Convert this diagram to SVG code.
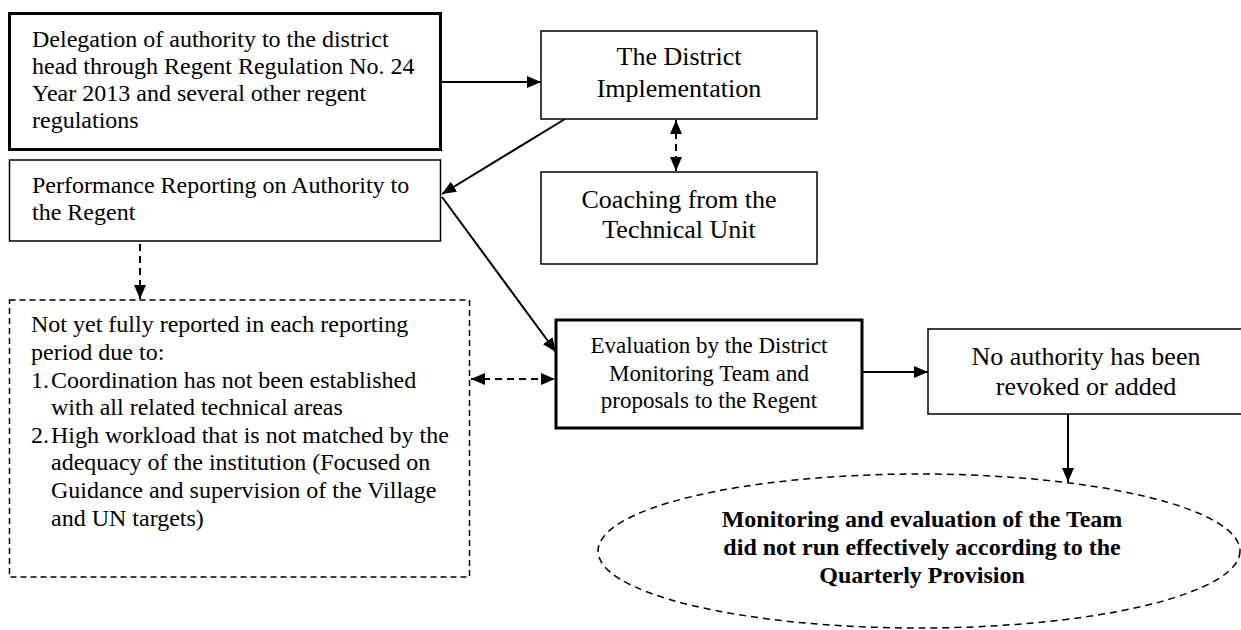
<svg xmlns="http://www.w3.org/2000/svg" width="1241" height="630" viewBox="0 0 1241 630">
<style>
.box{fill:#fff;stroke:#000;stroke-width:1.5}
.thick{fill:#fff;stroke:#000;stroke-width:3}
.dbox{fill:none;stroke:#000;stroke-width:1.5;stroke-dasharray:6 4}
.t{font-family:"Liberation Serif","Times New Roman",serif;font-size:24px;fill:#000}
.c{text-anchor:middle}
.b{font-weight:bold}
.ln{stroke:#000;stroke-width:2;fill:none}
.dash{stroke-dasharray:7 5}
</style>
<defs>
<marker id="ah" viewBox="0 0 14 12" refX="14" refY="6" markerWidth="14" markerHeight="12" orient="auto-start-reverse" markerUnits="userSpaceOnUse">
<path d="M0,0 L14,6 L0,12 z" fill="#000"/>
</marker>
</defs>
<rect width="1241" height="630" fill="#fff"/>
<g id="connectors">
<path class="ln" d="M441,82 L541,82" marker-end="url(#ah)"/>
<path class="ln" d="M565,119 L442,194" marker-end="url(#ah)"/>
<path class="ln" d="M442,197 L556,352" marker-end="url(#ah)"/>
<path class="ln dash" d="M676,120 L676,171" marker-start="url(#ah)" marker-end="url(#ah)"/>
<path class="ln dash" d="M140,244 L140,299" marker-end="url(#ah)"/>
<path class="ln dash" d="M471,379 L555,379" marker-start="url(#ah)" marker-end="url(#ah)"/>
<path class="ln" d="M862,372 L928,372" marker-end="url(#ah)"/>
<path class="ln" d="M1068,414 L1068,482" marker-end="url(#ah)"/>
</g>
<g id="delegation">
<rect class="thick" x="9.5" y="13.5" width="431" height="136"/>
<text class="t" x="32" y="47">Delegation of authority to the district</text>
<text class="t" x="32" y="74">head through Regent Regulation No. 24</text>
<text class="t" x="32" y="101">Year 2013 and several other regent</text>
<text class="t" x="32" y="128">regulations</text>
</g>
<g id="performance">
<rect class="box" x="9.5" y="160" width="431" height="81"/>
<text class="t" x="32" y="193">Performance Reporting on Authority to</text>
<text class="t" x="32" y="220">the Regent</text>
</g>
<g id="district">
<rect class="box" x="541" y="31" width="276" height="88"/>
<text class="t c" x="679" y="65" style="font-size:26px">The District</text>
<text class="t c" x="679" y="97" style="font-size:26px">Implementation</text>
</g>
<g id="coaching">
<rect class="box" x="541" y="172" width="276" height="92"/>
<text class="t c" x="679" y="208" style="font-size:26px">Coaching from the</text>
<text class="t c" x="679" y="238" style="font-size:26px">Technical Unit</text>
</g>
<g id="notyet">
<rect class="dbox" x="9.5" y="300" width="460" height="277"/>
<text class="t" x="31" y="332">Not yet fully reported in each reporting</text>
<text class="t" x="31" y="360">period due to:</text>
<text class="t" x="31" y="388">1.</text>
<text class="t" x="51" y="388">Coordination has not been established</text>
<text class="t" x="51" y="415">with all related technical areas</text>
<text class="t" x="31" y="443">2.</text>
<text class="t" x="51" y="443">High workload that is not matched by the</text>
<text class="t" x="51" y="470">adequacy of the institution (Focused on</text>
<text class="t" x="51" y="498">Guidance and supervision of the Village</text>
<text class="t" x="51" y="526">and UN targets)</text>
</g>
<g id="evaluation">
<rect class="thick" x="556" y="320" width="306" height="108"/>
<text class="t c" x="709" y="353" style="font-size:23px">Evaluation by the District</text>
<text class="t c" x="709" y="381" style="font-size:23px">Monitoring Team and</text>
<text class="t c" x="709" y="408" style="font-size:23px">proposals to the Regent</text>
</g>
<g id="noauthority">
<rect class="box" x="928" y="329" width="316" height="85"/>
<text class="t c" x="1086" y="365" style="font-size:26px">No authority has been</text>
<text class="t c" x="1086" y="395" style="font-size:26px">revoked or added</text>
</g>
<g id="monitoring">
<ellipse cx="919" cy="551" rx="321" ry="77" fill="none" stroke="#000" stroke-width="1.5" stroke-dasharray="7 5"/>
<text class="t c b" x="922" y="527">Monitoring and evaluation of the Team</text>
<text class="t c b" x="922" y="555">did not run effectively according to the</text>
<text class="t c b" x="922" y="583">Quarterly Provision</text>
</g>
</svg>
